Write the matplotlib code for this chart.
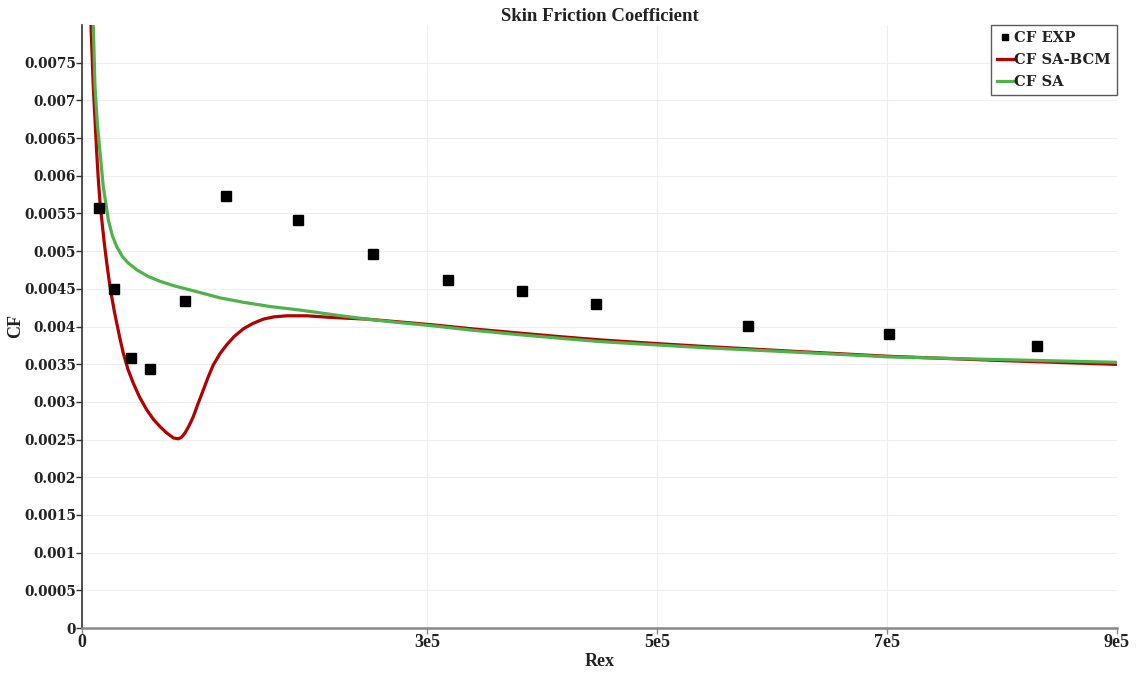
import matplotlib
matplotlib.use("Agg")
import matplotlib.pyplot as plt
from matplotlib.lines import Line2D

# Experimental skin friction (flat plate)
exp_rex = [14.8e3, 27.8e3, 42.6e3, 59.1e3, 89.6e3, 125.2e3, 187.8e3, 253e3,
           318.3e3, 382.6e3, 447e3, 579e3, 701.7e3, 830.4e3]
exp_cf = [0.005575, 0.0045, 0.003584, 0.003438, 0.00434, 0.005734, 0.005415,
          0.004964, 0.004619, 0.004473, 0.0043, 0.004009, 0.003902, 0.003743]

# SA-BCM transition model
bcm_rex = [6.5e3, 7.8e3, 9.8e3, 12.8e3, 14.2e3, 15.7e3, 17.1e3, 19.2e3, 21.5e3,
           23.6e3, 25.8e3, 28.0e3, 30.2e3, 33.0e3, 35.9e3, 40.0e3, 44.6e3,
           50.0e3, 56.3e3, 62.0e3, 67.8e3, 73.5e3, 79.4e3, 83.7e3, 86.5e3,
           89.6e3, 93.0e3, 96.8e3, 101.0e3, 105.5e3, 110.0e3, 114.2e3, 120.0e3,
           125.8e3, 132.5e3, 140.3e3, 148.5e3, 157.7e3, 167.0e3, 178e3, 195.4e3,
           212.8e3, 230.0e3, 247.6e3, 275.0e3, 305e3, 340.0e3, 381e3, 415.0e3,
           450e3, 495.0e3, 537e3, 620.0e3, 701e3, 800.0e3, 900e3]
bcm_cf = [0.0086, 0.00800, 0.007185, 0.006305, 0.005947, 0.005640, 0.005430,
          0.005130, 0.004845, 0.004610, 0.004398, 0.004210, 0.004045, 0.003840,
          0.003646, 0.003430, 0.003248, 0.003065, 0.002894, 0.002770, 0.002672,
          0.002590, 0.002522, 0.002510, 0.002530, 0.002588, 0.002680, 0.002805,
          0.002980, 0.003159, 0.003340, 0.003491, 0.003640, 0.003757, 0.003870,
          0.003969, 0.004040, 0.004098, 0.004128, 0.004142, 0.004142, 0.004124,
          0.004110, 0.004098, 0.004062, 0.004022, 0.003968, 0.003912, 0.003866,
          0.003823, 0.003778, 0.003739, 0.003670, 0.003605, 0.003548, 0.003498]

# Fully turbulent SA model
sa_rex = [8.6e3, 9.8e3, 11.3e3, 13.3e3, 15.7e3, 18.5e3, 22.9e3, 26.5e3, 30.2e3,
          35.0e3, 40.3e3, 47.6e3, 57.7e3, 67.8e3, 80.0e3, 96.5e3, 120e3,
          140.0e3, 163.5e3, 189.6e3, 207e3, 224e3, 247.6e3, 275.0e3, 305e3,
          340.0e3, 381e3, 415.0e3, 450e3, 495.0e3, 537e3, 620.0e3, 701e3,
          800.0e3, 900e3]
sa_cf = [0.0086, 0.00800, 0.007185, 0.006700, 0.006305, 0.005858, 0.005412,
         0.005200, 0.005061, 0.004930, 0.004841, 0.004752, 0.004663, 0.004600,
         0.004540, 0.004475, 0.004380, 0.004322, 0.004265, 0.004218, 0.004181,
         0.004145, 0.004098, 0.004053, 0.004009, 0.003950, 0.003890, 0.003845,
         0.003800, 0.003760, 0.003722, 0.003660, 0.003597, 0.003560, 0.003525]

x_ticks = [0, 3e5, 5e5, 7e5, 9e5]
x_ticklabels = ["0", "3e5", "5e5", "7e5", "9e5"]
y_ticks = [i * 0.0005 for i in range(16)]
y_ticklabels = ["0", "0.0005", "0.001", "0.0015", "0.002", "0.0025", "0.003",
                "0.0035", "0.004", "0.0045", "0.005", "0.0055", "0.006",
                "0.0065", "0.007", "0.0075"]

RED = "#b40000"
GREEN = "#4db34a"
TXT = "#222222"
SERIF = ["DejaVu Serif", "Liberation Serif"]

fig = plt.figure(figsize=(11.38, 6.73), dpi=100)
ax = fig.add_axes([82 / 1138, 45 / 673, 1035 / 1138, 603 / 673])

ax.plot(bcm_rex, bcm_cf, color=RED, lw=2.3, zorder=3, solid_joinstyle="round")
ax.plot(sa_rex, sa_cf, color=GREEN, lw=2.3, zorder=4, solid_joinstyle="round")
ax.plot(exp_rex, exp_cf, ls="none", marker="s", ms=7, color="black", zorder=5)

ax.set_xlim(0, 9e5)
ax.set_ylim(0, 0.008)
ax.set_xticks(x_ticks)
ax.set_xticklabels(x_ticklabels)
ax.set_yticks(y_ticks)
ax.set_yticklabels(y_ticklabels)

for lab in ax.get_yticklabels():
    lab.set_fontfamily(SERIF)
    lab.set_fontweight("bold")
    lab.set_fontsize(9.8)
    lab.set_color(TXT)
for lab in ax.get_xticklabels():
    lab.set_fontfamily(["Liberation Serif", "DejaVu Serif"])
    lab.set_fontweight("bold")
    lab.set_fontsize(13)
    lab.set_color(TXT)

ax.grid(True, color="#efefef", lw=0.8)
ax.set_axisbelow(True)
for side in ("top", "right"):
    ax.spines[side].set_visible(False)
ax.spines["left"].set_color("#333333")
ax.spines["left"].set_linewidth(1.2)
ax.spines["bottom"].set_color("#888888")
ax.spines["bottom"].set_linewidth(1.8)
ax.tick_params(axis="y", direction="out", length=4, width=1, color="#333333", pad=0.3)
ax.tick_params(axis="x", direction="out", length=4, width=1, color="#888888", pad=0)

ax.set_title("Skin Friction Coefficient", fontfamily=["Liberation Serif"],
             fontweight="bold", fontsize=13.5, color=TXT, pad=2)
ax.set_xlabel("Rex", fontfamily=["Liberation Serif"], fontweight="bold",
              fontsize=13, color=TXT, labelpad=1.5)
ax.set_ylabel("CF", fontfamily=["Liberation Serif"], fontweight="bold",
              fontsize=13, color=TXT, labelpad=0)

handles = [
    Line2D([], [], ls="none", marker="s", ms=5, color="black"),
    Line2D([], [], color=RED, lw=2.3),
    Line2D([], [], color=GREEN, lw=2.3),
]
leg = ax.legend(handles, ["CF EXP", "CF SA-BCM", "CF SA"], loc="upper right",
                bbox_to_anchor=(1.0, 1.0), frameon=True, fancybox=False,
                handlelength=1.1, handletextpad=0.1, borderpad=0.4,
                labelspacing=0.55, borderaxespad=0.0,
                prop={"family": SERIF, "weight": "bold", "size": 10.6})
leg.get_frame().set_edgecolor("#333333")
leg.get_frame().set_linewidth(1.0)
for t in leg.get_texts():
    t.set_color(TXT)

fig.savefig("out.png", dpi=100)
